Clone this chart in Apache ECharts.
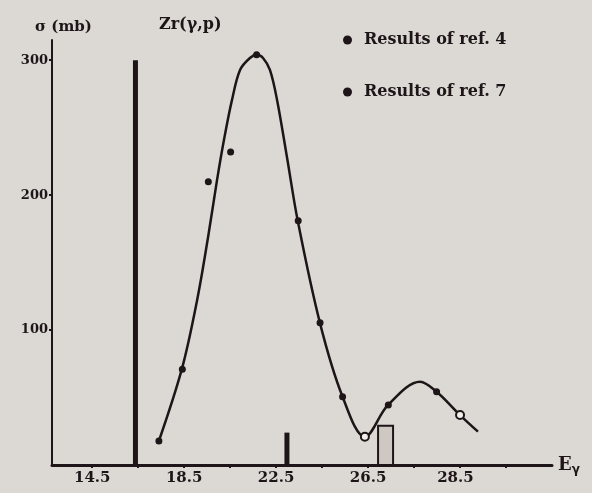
<!DOCTYPE html>
<html>
<head>
<meta charset="utf-8">
<script src="https://cdn.jsdelivr.net/npm/echarts@6/dist/echarts.min.js"></script>
<style>
html, body { margin: 0; padding: 0; background: #dcd9d4; }
#main { width: 592px; height: 493px; }
</style>
</head>
<body>
<div id="main"></div>
<script>
// measured points, E in MeV, sigma in mb
var ref4E = [17.40, 18.42, 19.55, 20.52, 21.65, 23.46, 24.41, 25.39, 27.38, 29.48];
var ref4Sigma = [17.8, 71, 210, 232, 304, 181, 105.5, 50.6, 44.5, 54.3];

var ref7E = [26.36, 30.5];
var ref7Sigma = [21, 37];

// hand drawn curve through the data
var fitE = [17.40, 18.40, 19.06, 19.54, 19.93, 20.23, 20.58, 20.93, 21.36, 21.67, 21.93, 22.23, 22.54, 22.97, 23.45, 24.41, 25.39, 26.36, 27.37, 28.76, 29.48, 30.50, 31.28];
var fitSigma = [17.8, 71.2, 122, 169, 211.3, 240.9, 270.6, 292.8, 301.7, 304, 301.7, 292.8, 270.6, 228.3, 180.1, 105, 50.6, 21, 44.5, 61.7, 54.3, 37, 24.7];

// vertical lines and the dotted box
var lineE = [16.38, 22.97];
var lineSigma = [300, 24];
var boxE = [27.26];
var boxSigma = [29];

// tick labels (as printed on the original figure)
var xTickAt = [14.5, 16.5, 18.5, 20.5, 22.5, 24.5, 26.5, 28.5, 30.5, 32.5];
var xLabelAt = [14.5, 18.5, 22.5, 26.5, 30.3];
var xLabelText = ['14.5', '18.5', '22.5', '26.5', '28.5'];
var yLabelAt = [100, 200, 300];

var ink = '#1d1517';
var font = 'DejaVu Serif';

function pairs(xs, ys) {
    return xs.map(function (x, i) { return [x, ys[i]]; });
}

var myChart = echarts.init(document.getElementById('main'));

option = {
    backgroundColor: '#dcd9d4',
    animation: false,
    title: [{
        text: 'σ (mb)',
        left: 30,
        top: 15,
        textStyle: { fontFamily: font, fontWeight: 'bold', fontSize: 15, color: ink }
    }, {
        text: 'Zr(γ,p)',
        left: 154,
        top: 12,
        textStyle: { fontFamily: font, fontWeight: 'bold', fontSize: 16, color: ink }
    }],
    legend: {
        data: [
            { name: 'Results of ref. 4', icon: 'circle', itemStyle: { color: ink, opacity: 1 } },
            { name: 'Results of ref. 7', icon: 'circle', itemStyle: { color: ink, borderWidth: 0, opacity: 1 } }
        ],
        orient: 'vertical',
        left: 338,
        top: 27,
        itemWidth: 9,
        itemHeight: 9,
        itemGap: 36,
        textStyle: { fontFamily: font, fontWeight: 'bold', fontSize: 16, color: ink, padding: [0, 0, 0, 7] }
    },
    grid: { left: 52, right: 40, top: 40, bottom: 28 },
    xAxis: {
        type: 'value',
        min: 12.75,
        max: 34.5,
        name: 'E{s|γ}',
        nameLocation: 'end',
        nameGap: 6,
        nameTextStyle: {
            fontFamily: font, fontWeight: 'bold', fontSize: 18, color: ink,
            rich: { s: { fontFamily: 'DejaVu Sans', fontSize: 12, color: ink, verticalAlign: 'bottom', padding: [9, 0, 0, 0] } }
        },
        splitLine: { show: false },
        axisLine: { lineStyle: { color: ink, width: 3 } },
        axisTick: { customValues: xTickAt, length: 3, lineStyle: { color: ink, width: 2 } },
        axisLabel: {
            customValues: xLabelAt,
            margin: 6,
            fontFamily: font, fontWeight: 'bold', fontSize: 15, color: ink,
            formatter: function (v) {
                var i = xLabelAt.indexOf(v);
                return i >= 0 ? xLabelText[i] : '';
            }
        }
    },
    yAxis: {
        type: 'value',
        min: 0,
        max: 315,
        splitLine: { show: false },
        axisLine: { show: true, lineStyle: { color: ink, width: 2 } },
        axisTick: { customValues: yLabelAt, length: 3, lineStyle: { color: ink, width: 2 } },
        axisLabel: {
            customValues: yLabelAt,
            margin: 4,
            fontFamily: font, fontWeight: 'bold', fontSize: 13, color: ink
        }
    },
    series: [{
        name: 'fit',
        type: 'line',
        data: pairs(fitE, fitSigma),
        smooth: 0.35,
        showSymbol: false,
        lineStyle: { color: ink, width: 2.5 },
        z: 2
    }, {
        name: 'Results of ref. 4',
        type: 'scatter',
        data: pairs(ref4E, ref4Sigma),
        symbol: 'circle',
        symbolSize: 7,
        itemStyle: { color: ink, opacity: 1 },
        z: 3
    }, {
        name: 'Results of ref. 7',
        type: 'scatter',
        data: pairs(ref7E, ref7Sigma),
        symbol: 'circle',
        symbolSize: 8,
        itemStyle: { color: '#f2efea', borderColor: ink, borderWidth: 2, opacity: 1 },
        z: 3
    }, {
        name: 'lines',
        type: 'custom',
        data: pairs(lineE, lineSigma),
        renderItem: function (params, api) {
            var top = api.coord([api.value(0), api.value(1)]);
            var base = api.coord([api.value(0), 0]);
            return {
                type: 'rect',
                shape: { x: top[0] - 2.5, y: top[1], width: 5, height: base[1] - top[1] },
                style: { fill: ink }
            };
        },
        z: 2
    }, {
        name: 'box',
        type: 'custom',
        data: pairs(boxE, boxSigma),
        renderItem: function (params, api) {
            var top = api.coord([api.value(0), api.value(1)]);
            var base = api.coord([api.value(0), 0]);
            return {
                type: 'rect',
                shape: { x: top[0] - 7.5, y: top[1], width: 15, height: base[1] - top[1] },
                style: { fill: '#cdc8c1', stroke: ink, lineWidth: 2 }
            };
        },
        z: 2
    }]
};

myChart.setOption(option);
</script>
</body>
</html>
